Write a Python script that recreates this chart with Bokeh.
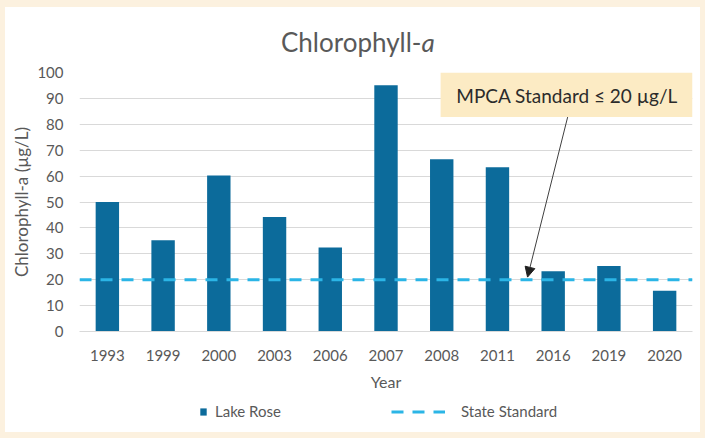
import re
from bokeh.plotting import figure
from bokeh.layouts import column
from bokeh.models import (FactorRange, Range1d, FixedTicker, Legend, LegendItem,
                          Label, Arrow, NormalHead, BoxAnnotation)
from bokeh.embed import file_html
from bokeh.resources import INLINE

# ---- data ----
years = ["1993", "1999", "2000", "2003", "2006", "2007", "2008", "2011", "2016", "2019", "2020"]
chl_a = [50, 35.2, 60.2, 44.2, 32.4, 95.1, 66.5, 63.4, 23.3, 25.3, 15.7]
state_standard = 20
y_ticks = [0, 10, 20, 30, 40, 50, 60, 70, 80, 90, 100]
series_name = "Lake Rose"
line_name = "State Standard"

FONT = "Lato"
GRAY = "#595959"
BAR = "#0C6B9B"
DASH = "#2BB5E6"
W = 695


def blank(h):
    f = figure(width=W, height=h, x_range=Range1d(0, 1), y_range=Range1d(0, 1),
               output_backend="svg", toolbar_location=None, title=None,
               x_axis_location=None, y_axis_location=None,
               min_border_left=74, min_border_right=8, min_border_top=0, min_border_bottom=0)
    f.outline_line_color = None
    f.xgrid.grid_line_color = None
    f.ygrid.grid_line_color = None
    f.background_fill_color = "white"
    f.border_fill_color = "white"
    return f


# ---- title strip (italic "a"); screen units relative to the strip frame ----
t = blank(55)
t.add_layout(Label(x=342, y=21, x_units="screen", y_units="screen", text="Chlorophyll-",
                   text_align="right", text_baseline="alphabetic", text_font=FONT,
                   text_font_size="26px", text_color=GRAY))
t.add_layout(Label(x=342, y=21, x_units="screen", y_units="screen", text="a",
                   text_align="left", text_baseline="alphabetic", text_font=FONT,
                   text_font_style="italic", text_font_size="26px", text_color=GRAY))

# ---- main chart ----
p = figure(x_range=FactorRange(*years, range_padding=0), y_range=Range1d(0, 100),
           width=W, height=340, output_backend="svg", toolbar_location=None, title=None,
           min_border_left=74, min_border_right=8, min_border_top=10, min_border_bottom=71)
p.outline_line_color = None
p.background_fill_color = "white"
p.border_fill_color = "white"

p.vbar(x=years, top=chl_a, width=0.42, fill_color=BAR, line_color=None)
p.line(x=[0, len(years)], y=[state_standard, state_standard],
       line_color=DASH, line_width=3, line_dash="12 9")

p.xgrid.grid_line_color = None
p.ygrid.grid_line_color = "#D9D9D9"
p.ygrid.grid_line_width = 1
p.yaxis.ticker = FixedTicker(ticks=y_ticks)
p.yaxis.axis_line_color = None
p.yaxis.major_tick_line_color = None
p.yaxis.minor_tick_line_color = None
p.yaxis.major_tick_out = 0
p.yaxis.major_tick_in = 0
p.yaxis.major_label_standoff = 16
p.yaxis.major_label_text_font = FONT
p.yaxis.major_label_text_font_size = "15px"
p.yaxis.major_label_text_color = GRAY
p.yaxis.axis_label = "Chlorophyll-a (µg/L)"
p.yaxis.axis_label_standoff = 2
p.yaxis.axis_label_text_font = FONT
p.yaxis.axis_label_text_font_size = "17px"
p.yaxis.axis_label_text_font_style = "normal"
p.yaxis.axis_label_text_color = GRAY

p.xaxis.axis_line_color = "#D9D9D9"
p.xaxis.major_tick_line_color = None
p.xaxis.major_tick_out = 0
p.xaxis.major_tick_in = 0
p.xaxis.major_label_standoff = 18
p.xaxis.major_label_text_font = FONT
p.xaxis.major_label_text_font_size = "15px"
p.xaxis.major_label_text_color = GRAY
p.xaxis.axis_label = "Year"
p.xaxis.axis_label_standoff = 8
p.xaxis.axis_label_text_font = FONT
p.xaxis.axis_label_text_font_size = "16px"
p.xaxis.axis_label_text_font_style = "normal"
p.xaxis.axis_label_text_color = GRAY

p.add_layout(BoxAnnotation(left=6.48, right=11, top=100, bottom=82.8,
                           fill_color="#FCEBC4", fill_alpha=1, line_color=None))
p.add_layout(Label(x=8.75, y=91.3, text="MPCA Standard ≤ 20 µg/L", text_align="center",
                   text_baseline="middle", text_font=FONT, text_font_size="19px",
                   text_color="#2B2B2B"))
p.add_layout(Arrow(x_start=8.76, y_start=82.8, x_end=8.04, y_end=21.0,
                   line_color="#404040", line_width=1,
                   end=NormalHead(size=10, fill_color="#202020", line_color="#202020")))

# ---- legend strip (renderers sit outside its visible range; only their legend glyphs show) ----
lg = blank(30)
r_bar = lg.vbar(x=[-5], top=[-5], bottom=[-6], width=1, fill_color=BAR, line_color=None)
r_line = lg.line(x=[-6, -5], y=[-5, -5], line_color=DASH, line_width=3, line_dash="12 9")
common = dict(padding=0, margin=0, border_line_color=None, background_fill_alpha=0,
              label_height=18, glyph_height=9, label_text_font=FONT,
              label_text_font_size="15px", label_text_color=GRAY)
lg.add_layout(Legend(items=[LegendItem(label=series_name, renderers=[r_bar])],
                     location=(120, 12), glyph_width=8, label_standoff=8, **common))
lg.add_layout(Legend(items=[LegendItem(label=line_name, renderers=[r_line])],
                     location=(312, 12), glyph_width=54, label_standoff=16, **common))

layout = column(t, p, lg, spacing=0)

html = file_html(layout, INLINE)
css = ("<style>html, body { background-color: #FFFFFF !important; } "
       "body { margin: 0 !important; padding: 0 !important; box-sizing: border-box !important; "
       "border-style: solid !important; border-color: #FCF1DF !important; "
       "border-width: 7px 5px 6px 5px !important; }</style>")
html = re.sub(r"</head>", css + "</head>", html, count=1)
open("out.html", "w").write(html)
